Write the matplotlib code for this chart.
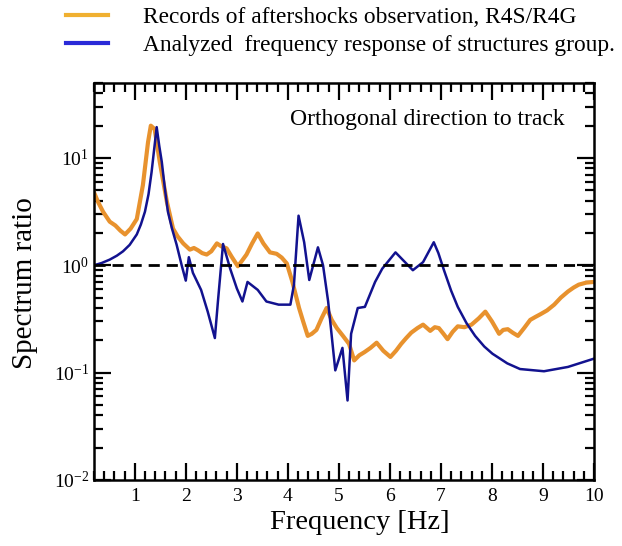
import matplotlib
matplotlib.use("Agg")
import matplotlib.pyplot as plt
from matplotlib.lines import Line2D
from matplotlib.ticker import MultipleLocator, LogLocator, FixedLocator

plt.rcParams['font.family'] = ['Liberation Serif', 'DejaVu Serif']
plt.rcParams['mathtext.fontset'] = 'custom'
plt.rcParams['mathtext.rm'] = 'Liberation Serif'

# Records of aftershocks observation (R4S/R4G spectrum ratio)
obs_freq = [0.2, 0.28, 0.38, 0.51, 0.62, 0.72, 0.81, 0.92, 1.04, 1.16, 1.26, 1.315,
            1.39, 1.49, 1.63, 1.75, 1.84, 1.95, 2.08, 2.16, 2.24, 2.32, 2.41, 2.5,
            2.61, 2.7, 2.8, 2.9, 3.02, 3.1, 3.19, 3.3, 3.41, 3.52, 3.65, 3.78, 3.88,
            3.98, 4.09, 4.22, 4.3, 4.39, 4.47, 4.56, 4.66, 4.76, 4.86, 4.96, 5.08,
            5.2, 5.3, 5.4, 5.5, 5.62, 5.74, 5.87, 6.01, 6.12, 6.22, 6.32, 6.42,
            6.54, 6.65, 6.79, 6.88, 6.96, 7.05, 7.13, 7.23, 7.33, 7.46, 7.6, 7.74,
            7.87, 8.0, 8.14, 8.22, 8.31, 8.41, 8.51, 8.63, 8.75, 8.85, 8.95, 9.08,
            9.22, 9.35, 9.49, 9.6, 9.7, 9.85, 10.0]
obs_ratio = [4.8, 3.9, 3.15, 2.55, 2.35, 2.1, 1.94, 2.2, 2.7, 5.6, 14.0, 20.0,
             18.6, 9.2, 3.9, 2.2, 1.86, 1.6, 1.4, 1.45, 1.38, 1.3, 1.26, 1.35,
             1.6, 1.5, 1.44, 1.2, 0.98, 1.1, 1.26, 1.6, 1.98, 1.6, 1.32, 1.28, 1.18,
             1.04, 0.7, 0.4, 0.3, 0.22, 0.23, 0.25, 0.32, 0.4, 0.31, 0.26, 0.22,
             0.185, 0.13, 0.145, 0.155, 0.17, 0.19, 0.16, 0.14, 0.16, 0.185, 0.21, 0.236,
             0.26, 0.28, 0.245, 0.265, 0.26, 0.23, 0.205, 0.24, 0.27, 0.265, 0.28, 0.32,
             0.37, 0.3, 0.23, 0.25, 0.254, 0.235, 0.22, 0.26, 0.31, 0.33, 0.35, 0.38,
             0.43, 0.5, 0.57, 0.62, 0.66, 0.69, 0.70]

# Analyzed frequency response of the structures group
model_freq = [0.2, 0.35, 0.51, 0.65, 0.77, 0.9, 1.04, 1.12, 1.2, 1.27, 1.33, 1.38,
              1.43, 1.48, 1.53, 1.59, 1.65, 1.73, 1.82, 1.92, 2.0, 2.06, 2.14, 2.3,
              2.43, 2.57, 2.63, 2.73, 2.87, 3.0, 3.11, 3.21, 3.41, 3.58, 3.82, 4.05,
              4.12, 4.21, 4.32, 4.42, 4.59, 4.69, 4.79, 4.93, 5.07, 5.17, 5.24, 5.37,
              5.51, 5.71, 5.85, 6.11, 6.45, 6.65, 6.86, 6.95, 7.06, 7.2, 7.33, 7.5,
              7.67, 7.85, 8.01, 8.3, 8.55, 9.02, 9.49, 10.0]
model_ratio = [1.0, 1.05, 1.13, 1.23, 1.35, 1.55, 1.94, 2.4, 3.16, 4.6, 7.4, 12.0,
               19.4, 13.0, 9.2, 5.2, 3.16, 2.2, 1.56, 1.0, 0.72, 1.19, 0.85, 0.59,
               0.37, 0.21, 0.46, 1.58, 0.93, 0.61, 0.46, 0.70, 0.59, 0.46, 0.43, 0.43,
               0.66, 2.9, 1.64, 0.73, 1.47, 1.0, 0.46, 0.105, 0.17, 0.055, 0.23, 0.40,
               0.41, 0.70, 0.93, 1.32, 0.90, 1.07, 1.64, 1.3, 0.9, 0.58, 0.41, 0.29,
               0.22, 0.175, 0.15, 0.122, 0.108, 0.103, 0.113, 0.135]

obs_color = '#E8922E'
model_color = '#12128F'

fig = plt.figure(figsize=(6.22, 5.46), dpi=100)
ax = fig.add_axes([0.151, 0.121, 0.804, 0.727])

ax.plot(obs_freq, obs_ratio, color=obs_color, lw=3.0, solid_joinstyle='round')
ax.plot(model_freq, model_ratio, color=model_color, lw=1.8)
ax.axhline(1.0, color='black', lw=2.0, ls=(0, (4, 2.5)))

ax.set_yscale('log')
ax.set_xlim(0.2, 10)
ax.set_ylim(0.01, 50)

ax.xaxis.set_major_locator(FixedLocator([1, 2, 3, 4, 5, 6, 7, 8, 9, 10]))
ax.xaxis.set_minor_locator(MultipleLocator(0.2))
ax.yaxis.set_major_locator(LogLocator(base=10, numticks=10))
ax.yaxis.set_minor_locator(LogLocator(base=10, subs=range(2, 10), numticks=20))

ax.tick_params(which='both', direction='in', top=True, right=True, width=1.6,
               labelsize=14, colors='black')
ax.tick_params(which='major', length=12)
ax.tick_params(which='minor', length=6.5)
ax.tick_params(axis='x', which='major', pad=6)
for sp in ax.spines.values():
    sp.set_linewidth(1.8)

ax.set_xlabel('Frequency [Hz]', fontsize=20.5)
ax.xaxis.set_label_coords(0.532, -0.075)
ax.set_ylabel('Spectrum ratio', fontsize=21)
ax.yaxis.set_label_coords(-0.112, 0.495)

ax.text(0.942, 0.907, 'Orthogonal direction to track', transform=ax.transAxes,
        ha='right', va='center', fontsize=17)

handles = [Line2D([], [], color='#F0B030', lw=3),
           Line2D([], [], color='#2A2AD8', lw=3)]
labels = ['Records of aftershocks observation, R4S/R4G',
          'Analyzed  frequency response of structures group.']
fig.legend(handles, labels, loc='upper left', bbox_to_anchor=(66 / 622, 1 - 7 / 546),
           frameon=False, fontsize=16.8, handlelength=1.8, handletextpad=1.5,
           labelspacing=0.27, borderpad=0.0, borderaxespad=0.0)

fig.savefig('out.png', dpi=100)
